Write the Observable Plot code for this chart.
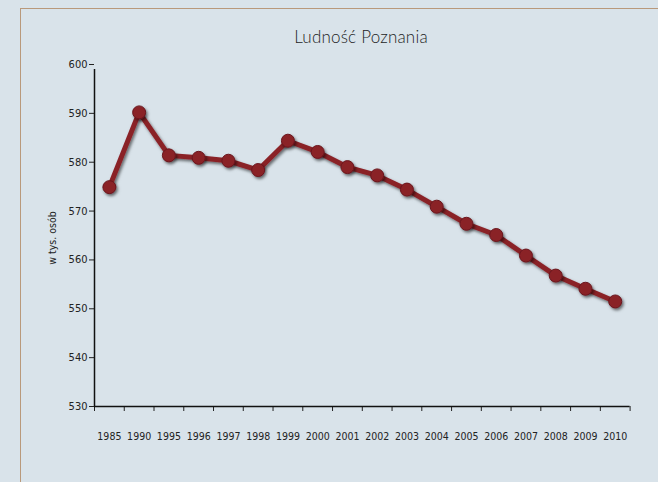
<!DOCTYPE html>
<html><head><meta charset="utf-8">
<script src="https://cdn.jsdelivr.net/npm/d3@7"></script>
<script src="https://cdn.jsdelivr.net/npm/@observablehq/plot@0.6"></script>
<style>
html,body{margin:0;padding:0;background:#d9e3ea;width:658px;height:482px;overflow:hidden}
#wrap{position:relative;width:658px;height:482px}
#frame{position:absolute;left:20px;top:8px;width:700px;height:600px;border:1.6px solid #b9997b;box-sizing:border-box}
#title{position:absolute;left:361px;top:26px;transform:translateX(-50%);font-family:Lato,"Open Sans",sans-serif;font-weight:300;font-size:17px;color:#1e1e1e;white-space:nowrap;letter-spacing:0.2px}
#ylab{position:absolute;left:52px;top:238px;transform:translate(-50%,-50%) rotate(-90deg);font-family:"Liberation Sans Narrow","DejaVu Sans Condensed",sans-serif;font-size:10.5px;color:#222;white-space:nowrap}
#chart{position:absolute;left:0;top:0}
</style></head>
<body><div id="wrap"><div id="frame"></div><div id="title">Ludność Poznania</div><div id="ylab">w tys. osób</div><div id="chart"></div></div>
<script>
const years = ["1985","1990","1995","1996","1997","1998","1999","2000","2001","2002","2003","2004","2005","2006","2007","2008","2009","2010"];
const population = [574.9,590.2,581.4,580.9,580.3,578.4,584.4,582.1,579.0,577.3,574.4,570.9,567.4,565.1,560.9,556.8,554.1,551.5];
const yTicks = [530,540,550,560,570,580,590,600];

const data = years.map((y,i)=>({i: i+0.5, year: y, v: population[i]}));
const bounds = d3.range(0, years.length+1);
const font = '"Liberation Sans Narrow","DejaVu Sans Condensed",sans-serif';

const plot = Plot.plot({
  width: 658, height: 482,
  marginLeft: 94, marginRight: 28.4, marginTop: 64, marginBottom: 76,
  style: {background: "transparent", color: "#222", fontFamily: font},
  x: {type: "linear", domain: [0, years.length]},
  y: {domain: [530, 600]},
  marks: [
    Plot.axisY({ticks: yTicks, tickSize: 5, tickPadding: 2, fontSize: 11, label: null, stroke: "#222"}),
    Plot.axisX({ticks: bounds, tickSize: 5, tickFormat: () => "", label: null, stroke: "#222"}),
    Plot.axisX({ticks: data.map(d=>d.i), tickSize: 0, tickPadding: 26, tickFormat: d => years[Math.floor(d)], fontSize: 10.5, label: null}),
    Plot.ruleX([0], {y1: 530, y2: 600, insetBottom: -5, stroke: "#111", strokeWidth: 1.5}),
    Plot.ruleY([530], {x1: 0, x2: years.length, stroke: "#111", strokeWidth: 1.5}),
    Plot.line(data, {x: "i", y: "v", stroke: "#8a2128", strokeWidth: 5, strokeLinejoin: "round"}),
    Plot.dot(data, {x: "i", y: "v", r: 6.5, fill: "#8a2128", stroke: "#6a171d", strokeWidth: 1})
  ]
});
document.getElementById("chart").append(plot);
const svg = d3.select(plot);
const defs = svg.insert("defs", ":first-child");
const f = defs.append("filter").attr("id","sh").attr("x","-50%").attr("y","-50%").attr("width","200%").attr("height","200%");
f.append("feDropShadow").attr("dx",1.5).attr("dy",2).attr("stdDeviation",1.6).attr("flood-color","#000").attr("flood-opacity",0.55);
svg.selectAll('g[aria-label="line"], g[aria-label="dot"]').attr("filter","url(#sh)");
</script></body></html>
